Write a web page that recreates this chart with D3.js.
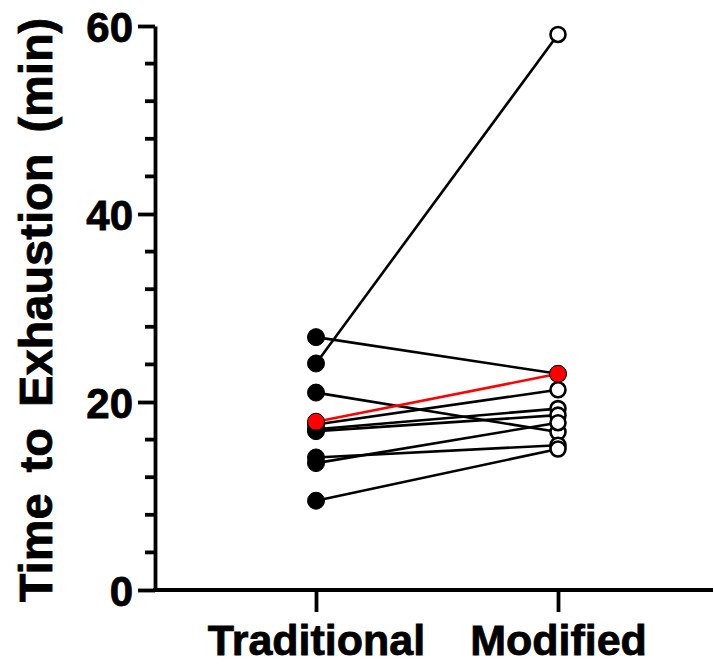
<!DOCTYPE html>
<html>
<head>
<meta charset="utf-8">
<script src="https://cdn.jsdelivr.net/npm/d3@7"></script>
<style>
  body { margin: 0; background: #fff; }
  svg text { font-family: "Liberation Sans", Arial, sans-serif; font-weight: bold; fill: #000; stroke: #000; stroke-width: 0.8px; }
</style>
</head>
<body>
<svg id="chart" width="714" height="665"></svg>
<script>
// conditions on the x axis
const conditions = ["Traditional", "Modified"];

// time to exhaustion (min), one entry per subject
const traditional = [26.9, 24.1, 21.0, 17.9, 17.6, 17.1, 16.9, 14.1, 13.5, 9.5];
const modified    = [23.0, 59.1, 16.8, 23.0, 21.3, 19.3, 18.6, 15.4, 17.8, 15.0];
// subject drawn in red
const highlighted = [false, false, false, true, false, false, false, false, false, false];

const yTicks = [0, 20, 40, 60];

// layout
const svg = d3.select("#chart");
const axisX = 155, axisY = 590, axisRight = 713;

const y = d3.scaleLinear().domain([0, 60]).range([axisY, 26]);
const x = d3.scalePoint().domain(conditions).range([316, 558]);

const subjects = traditional.map((t, i) => ({ t: t, m: modified[i], red: highlighted[i] }));
// draw black ones first so red sits on top
const ordered = subjects.filter(d => !d.red).concat(subjects.filter(d => d.red));

// y axis with major + minor ticks
const yAxis = d3.axisLeft(y).tickValues(yTicks).tickSize(17).tickPadding(5).tickSizeOuter(0);
const gy = svg.append("g").attr("transform", `translate(${axisX},0)`).call(yAxis);
gy.select(".domain").attr("stroke-width", 3.8);
gy.selectAll(".tick line").attr("stroke-width", 3.8);
gy.selectAll(".tick text").style("font-size", "42px").attr("dy", "0.36em");

const minor = d3.range(0, 61, 4).filter(v => v % 20 !== 0);
gy.selectAll(".minor")
  .data(minor)
  .enter()
  .append("line")
  .attr("class", "minor")
  .attr("x1", -10).attr("x2", 0)
  .attr("y1", d => y(d)).attr("y2", d => y(d))
  .attr("stroke", "#000").attr("stroke-width", 3.8);

// x axis
const xAxis = d3.axisBottom(x).tickSize(22).tickPadding(12).tickSizeOuter(0);
const gx = svg.append("g").attr("transform", `translate(0,${axisY})`).call(xAxis);
gx.select(".domain").attr("d", `M${axisX - 1.9},0H${axisRight}`).attr("stroke-width", 3.8);
gx.selectAll(".tick line").attr("stroke-width", 3.8);
gx.selectAll(".tick text").style("font-size", "43px");

// y title
svg.append("text")
  .attr("transform", `translate(52,310) rotate(-90)`)
  .attr("text-anchor", "middle")
  .style("font-size", "47px")
  .style("word-spacing", "8px")
  .text("Time to Exhaustion (min)");

// paired lines
svg.selectAll(".pair")
  .data(ordered)
  .enter()
  .append("line")
  .attr("class", "pair")
  .attr("x1", x("Traditional")).attr("y1", d => y(d.t))
  .attr("x2", x("Modified")).attr("y2", d => y(d.m))
  .attr("stroke", d => d.red ? "#ff0000" : "#000")
  .attr("stroke-width", 2.6);

// traditional: filled dots
svg.selectAll(".trad")
  .data(ordered)
  .enter()
  .append("circle")
  .attr("class", "trad")
  .attr("cx", x("Traditional")).attr("cy", d => y(d.t))
  .attr("r", 8.5)
  .attr("fill", d => d.red ? "#ff0000" : "#000")
  .attr("stroke", "#000").attr("stroke-width", 1);

// modified: open dots
svg.selectAll(".mod")
  .data(ordered)
  .enter()
  .append("circle")
  .attr("class", "mod")
  .attr("cx", x("Modified")).attr("cy", d => y(d.m))
  .attr("r", d => d.red ? 8.5 : 7.5)
  .attr("fill", d => d.red ? "#ff0000" : "#fff")
  .attr("stroke", "#000").attr("stroke-width", d => d.red ? 1 : 2.6);
</script>
</body>
</html>
